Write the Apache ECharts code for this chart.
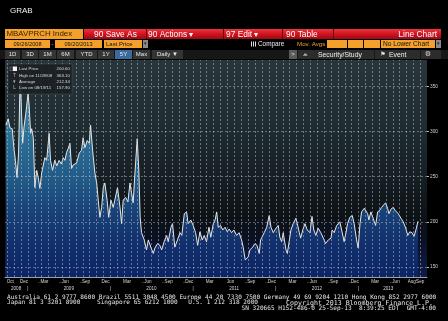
<!DOCTYPE html>
<html><head><meta charset="utf-8">
<script src="https://cdn.jsdelivr.net/npm/echarts@6/dist/echarts.min.js"></script>
<style>html,body{margin:0;padding:0;background:#000;overflow:hidden}#c{width:448px;height:321px}</style>
</head><body><div id="c"></div>
<script>
// ---- data (MBA purchase index) ----
const dates = ['2008-09-26','2008-10-06','2008-10-14','2008-10-24','2008-10-31','2008-11-07','2008-11-14','2008-11-21','2008-11-28','2008-12-09','2008-12-15','2008-12-23',
'2009-01-02','2009-01-07','2009-01-13','2009-01-18','2009-01-25','2009-02-01','2009-02-09','2009-02-16','2009-02-23','2009-03-03','2009-03-17','2009-03-25','2009-04-05','2009-04-11','2009-04-20','2009-04-30','2009-05-09','2009-05-19','2009-05-29','2009-06-06','2009-06-14','2009-06-21','2009-06-28','2009-07-06','2009-07-13','2009-07-20','2009-08-04','2009-08-16','2009-08-26','2009-09-02','2009-09-10','2009-09-20','2009-09-29','2009-10-05','2009-10-14','2009-10-24','2009-11-01','2009-11-08','2009-11-15','2009-11-23','2009-11-30','2009-12-07','2009-12-17','2009-12-24',
'2010-01-03','2010-01-13','2010-01-20','2010-02-01','2010-02-12','2010-02-19','2010-02-26','2010-03-09','2010-03-19','2010-03-28','2010-04-04','2010-04-11','2010-04-19','2010-04-29','2010-05-06','2010-05-12','2010-05-18','2010-05-30','2010-06-09','2010-06-17','2010-06-28','2010-07-09','2010-07-16','2010-07-28','2010-08-07','2010-08-15','2010-08-26','2010-09-06','2010-09-13','2010-09-25','2010-10-02','2010-10-12','2010-10-24','2010-11-04','2010-11-12','2010-11-23','2010-12-03','2010-12-10','2010-12-22',
'2011-01-01','2011-01-12','2011-01-21','2011-01-31','2011-02-10','2011-02-19','2011-03-01','2011-03-12','2011-03-20','2011-03-31','2011-04-08','2011-04-15','2011-04-22','2011-05-02','2011-05-12','2011-05-22','2011-06-01','2011-06-09','2011-06-20','2011-06-30','2011-07-12','2011-07-23','2011-08-03','2011-08-10','2011-08-19','2011-09-01','2011-09-09','2011-09-21','2011-10-01','2011-10-10','2011-10-20','2011-10-26','2011-11-03','2011-11-11','2011-11-22','2011-12-03','2011-12-11','2011-12-21',
'2012-01-02','2012-01-12','2012-01-19','2012-01-27','2012-02-03','2012-02-15','2012-02-21','2012-02-29','2012-03-08','2012-03-18','2012-03-30','2012-04-05','2012-04-14','2012-04-20','2012-04-29','2012-05-09','2012-05-19','2012-05-31','2012-06-09','2012-06-17','2012-06-26','2012-07-06','2012-07-18','2012-07-29','2012-08-08','2012-08-20','2012-09-01','2012-09-06','2012-09-15','2012-09-26','2012-10-10','2012-10-18','2012-10-29','2012-11-06','2012-11-13','2012-11-23','2012-12-04','2012-12-12','2012-12-23','2012-12-30',
'2013-01-07','2013-01-14','2013-01-26','2013-02-02','2013-02-10','2013-02-15','2013-02-24','2013-03-06','2013-03-17','2013-03-26','2013-04-05','2013-04-12','2013-04-19','2013-04-30','2013-05-09','2013-05-15','2013-05-24','2013-06-03','2013-06-10','2013-06-18','2013-06-25','2013-07-07','2013-07-17','2013-07-28','2013-08-06','2013-08-15','2013-08-25','2013-09-03','2013-09-13','2013-09-20'];
const values = [307,314,304,303,282,268,249,276,363.1,287,305,320,
342,327,298,303,293,238,257,249,237,254,271,268,298,268,257,268,262,268,264,271,268,277,281,287,259,263,265,276,279,293,282,290,287,307,279,254,243,224,205,216,238,243,224,205,
224,216,224,238,216,198,224,227,222,243,232,221,254,292,257,205,188,180,169,180,172,165,171,176,174,169,178,185,178,194,198,172,180,188,185,209,211,198,202,
196,188,174,189,180,185,178,194,183,198,202,211,194,196,191,194,189,192,188,191,185,188,180,172,157.9,161,169,172,176,174,165,180,178,188,194,207,194,188,
193,196,183,178,188,169,165,178,191,198,204,198,188,182,191,198,191,188,206,191,185,193,188,182,176,180,182,191,188,196,200,191,178,188,198,205,207,198,180,171,
198,211,215,213,209,202,211,204,196,211,213,216,218,221,215,209,214,216,213,214,209,204,200,193,185,189,188,184,193,200.6];

const monthLabelDates = ['2008-10-15','2008-12-15','2009-03-15','2009-06-15','2009-09-15','2009-12-10','2010-03-15','2010-06-15','2010-09-15','2010-12-15','2011-03-15','2011-06-15','2011-09-15','2011-12-15','2012-03-15','2012-06-15','2012-09-15','2012-12-15','2013-03-15','2013-06-15','2013-08-24','2013-09-30'];
const monthLabelTexts = ['Oct','Dec','..Mar','..Jun','..Sep','Dec','Mar','..Jun','..Sep','..Dec','Mar','Jun','..Sep','..Dec','Mar','..Jun','..Sep','..Dec','Mar','..Jun','Aug','Sep'];
const yearLabelDates = ['2008-11-10','2009-01-01','2009-07-01','2010-01-01','2010-07-01','2011-01-01','2011-07-01','2012-01-01','2012-07-01','2013-01-01','2013-05-12'];
const yearLabelTexts = ['2008','|','2009','|','2010','|','2011','|','2012','|','2013'];
const yTicks = [150,200,250,300,350];
const statNames = ['Last Price','High on 11/28/08','Average','Low on 08/19/11'];
const statValues = ['200.60','363.10','212.34','157.90'];
const lastPrice = 200.60;

// ---- helpers ----
const ts = s => { const p = s.split('-').map(Number); return new Date(p[0], p[1]-1, p[2]).getTime(); };
const seriesData = dates.map((d,i)=>[ts(d), values[i]]);
const mlab = {}; monthLabelDates.forEach((d,i)=>{ mlab[ts(d)] = monthLabelTexts[i]; });
const ylab = {}; yearLabelDates.forEach((d,i)=>{ ylab[ts(d)] = yearLabelTexts[i]; });
const monthStarts = [];
for (let y=2008, m=9; y<2013 || (y===2013 && m<=9); ) { monthStarts.push(new Date(y,m,1).getTime()); m++; if (m>11){m=0;y++;} }

const SANS = '"Liberation Sans", Arial, sans-serif';
const MONO = '"DejaVu Sans Mono", "Liberation Mono", monospace';
const els = [];
function R(x,y,w,h,fill,extra){ els.push(Object.assign({type:'rect', silent:true, z:50, shape:{x:x,y:y,width:w,height:h}, style:{fill:fill}}, extra||{})); }
function T(x,y,t,size,fill,opt){ opt=opt||{}; els.push({type:'text', silent:true, z:opt.z||51, x:x, y:y,
  style:{text:t, fill:fill||'#fff', font:(opt.bold?'bold ':'')+size+'px '+(opt.family||SANS), align:opt.align||'left', textAlign:opt.align||'left', verticalAlign:'middle', textVerticalAlign:'middle'}}); }

// title
T(10,10.5,'GRAB',8,'#f2f2f2');
// row 1
const ORANGE = '#f3a12b';
R(5,29,78,10,ORANGE);
T(6.5,34.2,'MBAVPRCH Index',7.9,'#3a2200');
R(84,29,357,10,new echarts.graphic.LinearGradient(0,0,0,1,[{offset:0,color:'#f0343c'},{offset:0.5,color:'#cf1420'},{offset:1,color:'#9c0a12'}]));
[146,223,282,333].forEach(x=>R(x,29,1,10,'#6a0008'));
T(94,34.2,'90 Save As',8.4,'#fff');
T(148,34.2,'90 Actions \u25BE',8.4,'#fff');
T(226,34.2,'97 Edit \u25BE',8.4,'#fff');
T(286,34.2,'90 Table',8.4,'#fff');
T(437,34.2,'Line Chart',8.4,'#fff',{align:'right'});
// row 2
R(5,40,45,8,ORANGE); T(27.5,44.2,'09/26/2008',5.6,'#111',{align:'center'});
T(52.5,44,'-',6,'#ddd',{align:'center'});
R(55,40,47,8,ORANGE); T(78.5,44.2,'09/20/2013',5.6,'#111',{align:'center'});
R(104,40,38,8,ORANGE); T(106,44.2,'Last Price',6,'#111');
R(143,40,5,8,'#8a8a8a'); T(145.5,44,'\u25BE',5,'#222',{align:'center'});
[251,253,255].forEach(x=>R(x,41.5,1,5,'#ddd'));
T(258,44.2,'Compare',6.4,'#eee');
T(297,44.2,'Mov. Avgs',6.2,ORANGE);
R(327,40,20,8,ORANGE); R(348,40,15,8,ORANGE); R(364,40,16,8,ORANGE);
R(381,40,54,8,ORANGE); T(383,44.2,'No Lower Chart',6.6,'#111');
R(436,40,5,8,'#8a8a8a'); T(438.5,44,'\u25BE',5,'#222',{align:'center'});
// row 3
R(0,50,448,9,'#171717');
const btns = [[5,20,'1D'],[22,38,'3D'],[39,56,'1M'],[57,74,'6M'],[76,97,'YTD'],[98,114,'1Y'],[115,132,'5Y'],[133,150,'Max'],[152,183,'Daily \u25BC']];
btns.forEach(b=>{ R(b[0],50,b[1]-b[0],9,b[2]==='5Y'?'#3a6a9e':'#343434'); T((b[0]+b[1])/2,54.7,b[2],6,'#e8e8e8',{align:'center'}); });
R(289,50,8,9,'#5a5a5a'); T(293,54.6,'>',6,'#eee',{align:'center'});
R(298,50,76,9,'#2c2c2c'); T(305,54.6,'\u2A55',6,'#ddd',{align:'center', family:'"DejaVu Sans"'});
T(318,54.7,'Security/Study',6.8,'#eee');
R(375,50,45,9,'#2c2c2c'); T(383,54.6,'\u2691',6,'#eee',{align:'center', family:'"DejaVu Sans"'});
T(389,54.7,'Event',6.8,'#eee');
R(421,50,20,9,'#2c2c2c'); T(428,54.6,'\u2699',7,'#ddd',{align:'center', family:'"DejaVu Sans"'});
// legend box inside plot
R(8,64,64,30,'rgba(26,32,36,0.92)',{z:100, style:{fill:'rgba(26,32,36,0.92)', stroke:'rgba(110,120,125,0.5)', lineWidth:0.5}});
R(10,67,2.5,3.5,'rgba(0,0,0,0)',{z:101, style:{fill:'rgba(0,0,0,0)', stroke:'#999', lineWidth:0.5}});
R(13,66.5,4,4.5,'#f4f4f4',{z:101});
const icons = ['', 'T', '\u25BE', 'L'];
statNames.forEach((n,i)=>{
  const y = 69 + i*6.4;
  if (i>0) T(14.5,y,icons[i],4.6,'#bbb',{align:'center', z:102});
  T(19,y,n,4.4,'#dcdcdc',{z:102});
  T(70,y,statValues[i],4.4,'#dcdcdc',{align:'right', z:102});
});
// footer
const FC = '#e6e6e6';
T(7,297.5,'Australia 61 2 9777 8600 Brazil 5511 3048 4500 Europe 44 20 7330 7500 Germany 49 69 9204 1210 Hong Kong 852 2977 6000',6.1,FC,{family:MONO});
T(7,302.8,'Japan 81 3 3201 8900',6.1,FC,{family:MONO});
T(97,302.8,'Singapore 65 6212 1000',6.1,FC,{family:MONO});
T(258,302.8,'U.S. 1 212 318 2000',6.1,FC,{family:MONO, align:'right'});
T(433,302.8,'Copyright 2013 Bloomberg Finance L.P.',6.6,FC,{family:MONO, align:'right'});
T(436,308.2,'SN 320665 H152-486-0 25-Sep-13  8:39:25 EDT  GMT-4:00',6.1,FC,{family:MONO, align:'right'});

const GRID_TOP = 60, GRID_BOTTOM = 277;
const hLine = {color:'rgba(190,198,205,0.45)', type:[2,2], width:1};
const vLine = {color:'rgba(190,198,205,0.5)', type:[2,2], width:1};
const markData = monthStarts.map(t=>({xAxis:t, lineStyle:vLine}))
  .concat(yTicks.map(v=>({yAxis:v, lineStyle:hLine})))
  .concat([{yAxis:lastPrice, lineStyle:{opacity:0}, label:{show:true, position:'end', distance:1, formatter: lastPrice.toFixed(2), backgroundColor:'#f2f2f2', color:'#111', fontSize:5, fontFamily:SANS, padding:[1.5,1.5,1,1.5]}}]);

const X_MIN = ts('2008-09-22'), X_MAX = ts('2013-10-30');
const chart = echarts.init(document.getElementById('c'), null, {renderer:'canvas'});
chart.setOption({
  animation:false,
  backgroundColor:'#000',
  graphic:{elements:els},
  grid:{left:5, right:21, top:GRID_TOP, bottom:321-GRID_BOTTOM, show:true, borderWidth:0,
    backgroundColor:new echarts.graphic.LinearGradient(0,0,0,1,[
      {offset:0,color:'#28363c'},{offset:0.3,color:'#1f2c32'},{offset:0.55,color:'#151e23'},
      {offset:0.72,color:'#0d1216'},{offset:0.82,color:'#0a1022'},{offset:0.9,color:'#0b1638'},{offset:1,color:'#0d1c4c'}])},
  xAxis:[{
    type:'value', min:X_MIN, max:X_MAX,
    axisLine:{show:true, lineStyle:{color:'#9ba1a6', width:1}},
    axisTick:{show:false}, splitLine:{show:false},
    axisLabel:{customValues:monthLabelDates.map(ts), margin:2, fontSize:4.6, color:'#d6d6d6', fontFamily:SANS,
      formatter:v=>{ const t = mlab[v]; if(!t) return ''; if(t.startsWith('..')) return '{d|..}{m|'+t.slice(2)+'}{p|..}'; return '{m|'+t+'}'; },
      rich:{d:{fontSize:4.6,color:'#d6d6d6',fontFamily:SANS}, m:{fontSize:4.6,color:'#d6d6d6',fontFamily:SANS}, p:{fontSize:4.6,color:'rgba(0,0,0,0)',fontFamily:SANS}}}
  },{
    type:'value', min:X_MIN, max:X_MAX, position:'bottom',
    axisLine:{show:false}, axisTick:{show:false}, splitLine:{show:false},
    axisLabel:{customValues:yearLabelDates.map(ts), margin:9, fontSize:4.6, color:'#d6d6d6', fontFamily:SANS,
      formatter:v=>ylab[v]||''}
  }],
  yAxis:{
    type:'value', position:'right', min:139, max:379,
    axisLine:{show:false}, splitLine:{show:false},
    axisTick:{show:true, length:2, customValues:yTicks, lineStyle:{color:'#b8b8b8'}},
    axisLabel:{customValues:yTicks, margin:3, fontSize:4.8, color:'#cfcfcf', fontFamily:SANS}
  },
  series:[{
    type:'line', data:seriesData, symbol:'none', xAxisIndex:0,
    lineStyle:{color:'#e6e6e6', width:1},
    areaStyle:{origin:'start', opacity:1, color:new echarts.graphic.LinearGradient(0,GRID_TOP,0,GRID_BOTTOM,[
      {offset:0,color:'#3d8cab'},{offset:0.3,color:'#2f7598'},{offset:0.55,color:'#215a87'},
      {offset:0.72,color:'#173f76'},{offset:0.85,color:'#112f6c'},{offset:1,color:'#0c2464'}],true)},
    markLine:{silent:true, symbol:['none','none'], animation:false, label:{show:false}, data:markData}
  }]
});
</script></body></html>
